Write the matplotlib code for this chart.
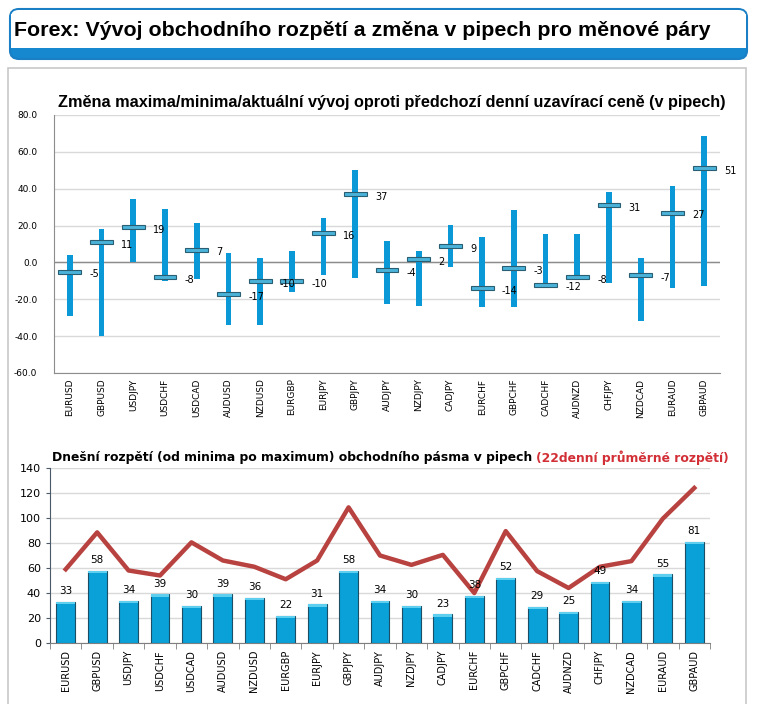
import matplotlib
matplotlib.use("Agg")
import matplotlib.pyplot as plt
from matplotlib.patches import FancyBboxPatch, Rectangle
from matplotlib import font_manager
import numpy as np

pairs = ["EURUSD", "GBPUSD", "USDJPY", "USDCHF", "USDCAD", "AUDUSD", "NZDUSD",
         "EURGBP", "EURJPY", "GBPJPY", "AUDJPY", "NZDJPY", "CADJPY", "EURCHF",
         "GBPCHF", "CADCHF", "AUDNZD", "CHFJPY", "NZDCAD", "EURAUD", "GBPAUD"]
day_high = [4.0, 18.0, 34.3, 28.9, 21.3, 5.1, 2.3, 6.1, 24.0, 50.0, 11.5,
            6.1, 20.2, 13.7, 28.3, 15.3, 15.3, 38.1, 2.3, 41.3, 68.4]
day_low = [-28.9, -39.9, 0.0, -9.9, -9.0, -33.9, -33.9, -16.1, -6.7, -8.3, -22.4,
           -23.6, -2.3, -24.2, -24.2, -13.7, -9.6, -11.2, -31.8, -13.9, -12.6]
current = [-5, 11, 19, -8, 7, -17, -10, -10, 16, 37, -4, 2, 9, -14, -3, -12,
           -8, 31, -7, 27, 51]
today_range = [33, 58, 34, 39, 30, 39, 36, 22, 31, 58, 34, 30, 23, 38, 52, 29,
               25, 49, 34, 55, 81]
avg22_range = [59, 88.5, 58, 54, 80.5, 66, 61, 51, 66, 108.5, 70, 62.5, 70.5,
               40, 89.5, 57.5, 44, 61, 65.5, 99.5, 124]

W, H = 758, 704
fig = plt.figure(figsize=(W / 100, H / 100), dpi=100)
fig.patch.set_facecolor("white")

def fx(px):
    return px / W

def fy(py):
    return 1 - py / H

installed = {f.name for f in font_manager.fontManager.ttflist}
if "Liberation Sans Narrow" in installed:
    narrow = "Liberation Sans Narrow"
else:
    narrow = "Liberation Sans"

def fit_text(t, target_px):
    """Scale a text's font size so its width matches target_px."""
    fig.canvas.draw()
    w = t.get_window_extent().width
    t.set_fontsize(t.get_fontsize() * target_px / w)

# outer panel frame
fig.patches.append(Rectangle((fx(8), fy(706)), fx(738), fy(68) - fy(706),
                             transform=fig.transFigure, facecolor="white",
                             edgecolor="#c8c8c8", linewidth=1.2, zorder=-5))
# title box
fig.patches.append(FancyBboxPatch((fx(10), fy(59)), fx(737), fy(9) - fy(59),
                                  boxstyle="round,pad=0,rounding_size=0.012",
                                  transform=fig.transFigure, facecolor="#1588cf",
                                  edgecolor="#1a7fc4", linewidth=1.5, zorder=-4))
fig.patches.append(Rectangle((fx(11), fy(48)), fx(735), fy(14) - fy(48),
                             transform=fig.transFigure, facecolor="white",
                             edgecolor="none", zorder=-3))
fig.patches.append(FancyBboxPatch((fx(11), fy(40)), fx(735), fy(10) - fy(40),
                                  boxstyle="round,pad=0,rounding_size=0.01",
                                  transform=fig.transFigure, facecolor="white",
                                  edgecolor="none", zorder=-3))
title = fig.text(fx(14), fy(30), "Forex: Vývoj obchodního rozpětí a změna v pipech pro měnové páry",
                 family=[narrow, "DejaVu Sans"], fontweight="bold", fontsize=15,
                 color="black", va="center", ha="left", zorder=3)
fit_text(title, 696)

x = np.arange(len(pairs))

# ---------- top chart ----------
ax1 = fig.add_axes([fx(54), fy(373), fx(720) - fx(54), fy(115) - fy(373)])
ax1.set_facecolor("none")
ax1.set_xlim(-0.5, len(pairs) - 0.5)
ax1.set_ylim(-60, 80)
ax1.set_yticks(np.arange(-60, 81, 20))
ax1.set_yticklabels([f"{v:.1f}" for v in np.arange(-60, 81, 20)])
ax1.yaxis.grid(True, color="#d9d9d9", linewidth=1)
ax1.set_axisbelow(True)
ax1.axhline(0, color="#8c8c8c", linewidth=1, zorder=1)
for s in ["top", "right"]:
    ax1.spines[s].set_visible(False)
ax1.spines["left"].set_color("#8c8c8c")
ax1.spines["bottom"].set_color("#8c8c8c")
ax1.tick_params(axis="y", length=0, labelsize=6.5, pad=12)
ax1.tick_params(axis="x", length=0, labelsize=6.5, pad=4)
ax1.set_xticks(x)
ax1.set_xticklabels(pairs, rotation=90)
lows = np.array(day_low)
highs = np.array(day_high)
ax1.bar(x, highs - lows, bottom=lows, width=0.18, color="#0a98d6", zorder=3)
ax1.bar(x, 2.2, bottom=np.array(current) - 1.1, width=0.72, color="#4bb3d9",
        edgecolor="#2a5f73", linewidth=0.8, zorder=4)
for xi, c in zip(x, current):
    ax1.annotate(f"{c}", (xi + 0.36, c), xytext=(6, -2), textcoords="offset points",
                 fontsize=7, va="center", ha="left", zorder=5)
sub1 = fig.text(fx(392), fy(102),
                "Změna maxima/minima/aktuální vývoj oproti předchozí denní uzavírací ceně (v pipech)",
                family=[narrow, "DejaVu Sans"], fontweight="bold", fontsize=11,
                ha="center", va="center")
fit_text(sub1, 670)

# ---------- bottom chart ----------
ax2 = fig.add_axes([fx(50), fy(643), fx(710) - fx(50), fy(468) - fy(643)])
ax2.set_facecolor("none")
ax2.set_xlim(-0.5, len(pairs) - 0.5)
ax2.set_ylim(0, 140)
ax2.set_yticks(np.arange(0, 141, 20))
ax2.yaxis.grid(True, color="#d9d9d9", linewidth=1)
ax2.set_axisbelow(True)
for s in ["top", "right"]:
    ax2.spines[s].set_visible(False)
ax2.spines["left"].set_color("#4a5a6a")
ax2.spines["bottom"].set_color("#7f7f7f")
ax2.tick_params(axis="y", length=3, labelsize=8, color="#4a5a6a")
ax2.set_xticks(x)
ax2.set_xticklabels(pairs, rotation=90)
ax2.tick_params(axis="x", length=0, labelsize=7, pad=5)
ax2.set_xticks(np.arange(-0.5, len(pairs), 1), minor=True)
ax2.tick_params(axis="x", which="minor", length=4, color="#7f7f7f")
ax2.bar(x, today_range, width=0.6, color="#0aa0d8", edgecolor="#1c4f66",
        linewidth=0.8, zorder=3)
ax2.bar(x, 1.8, bottom=np.array(today_range) - 1.8, width=0.6, color="#5fcff0",
        edgecolor="none", zorder=4)
ax2.plot(x, avg22_range, color="#b8423f", linewidth=3.2, zorder=5)
for xi, v in zip(x, today_range):
    ax2.annotate(f"{v}", (xi, v), xytext=(0, 4), textcoords="offset points",
                 fontsize=7.5, ha="center", va="bottom", zorder=6)
t1 = fig.text(fx(52), fy(458),
              "Dnešní rozpětí (od minima po maximum) obchodního pásma v pipech ",
              fontweight="bold", fontsize=8.9, ha="left", va="center")
fig.canvas.draw()
bb = t1.get_window_extent()
fig.text(bb.x1 / W, fy(458), "(22denní průměrné rozpětí)", fontweight="bold",
         fontsize=8.9, color="#d22f36", ha="left", va="center")

fig.savefig("out.png", dpi=100, facecolor="white")
